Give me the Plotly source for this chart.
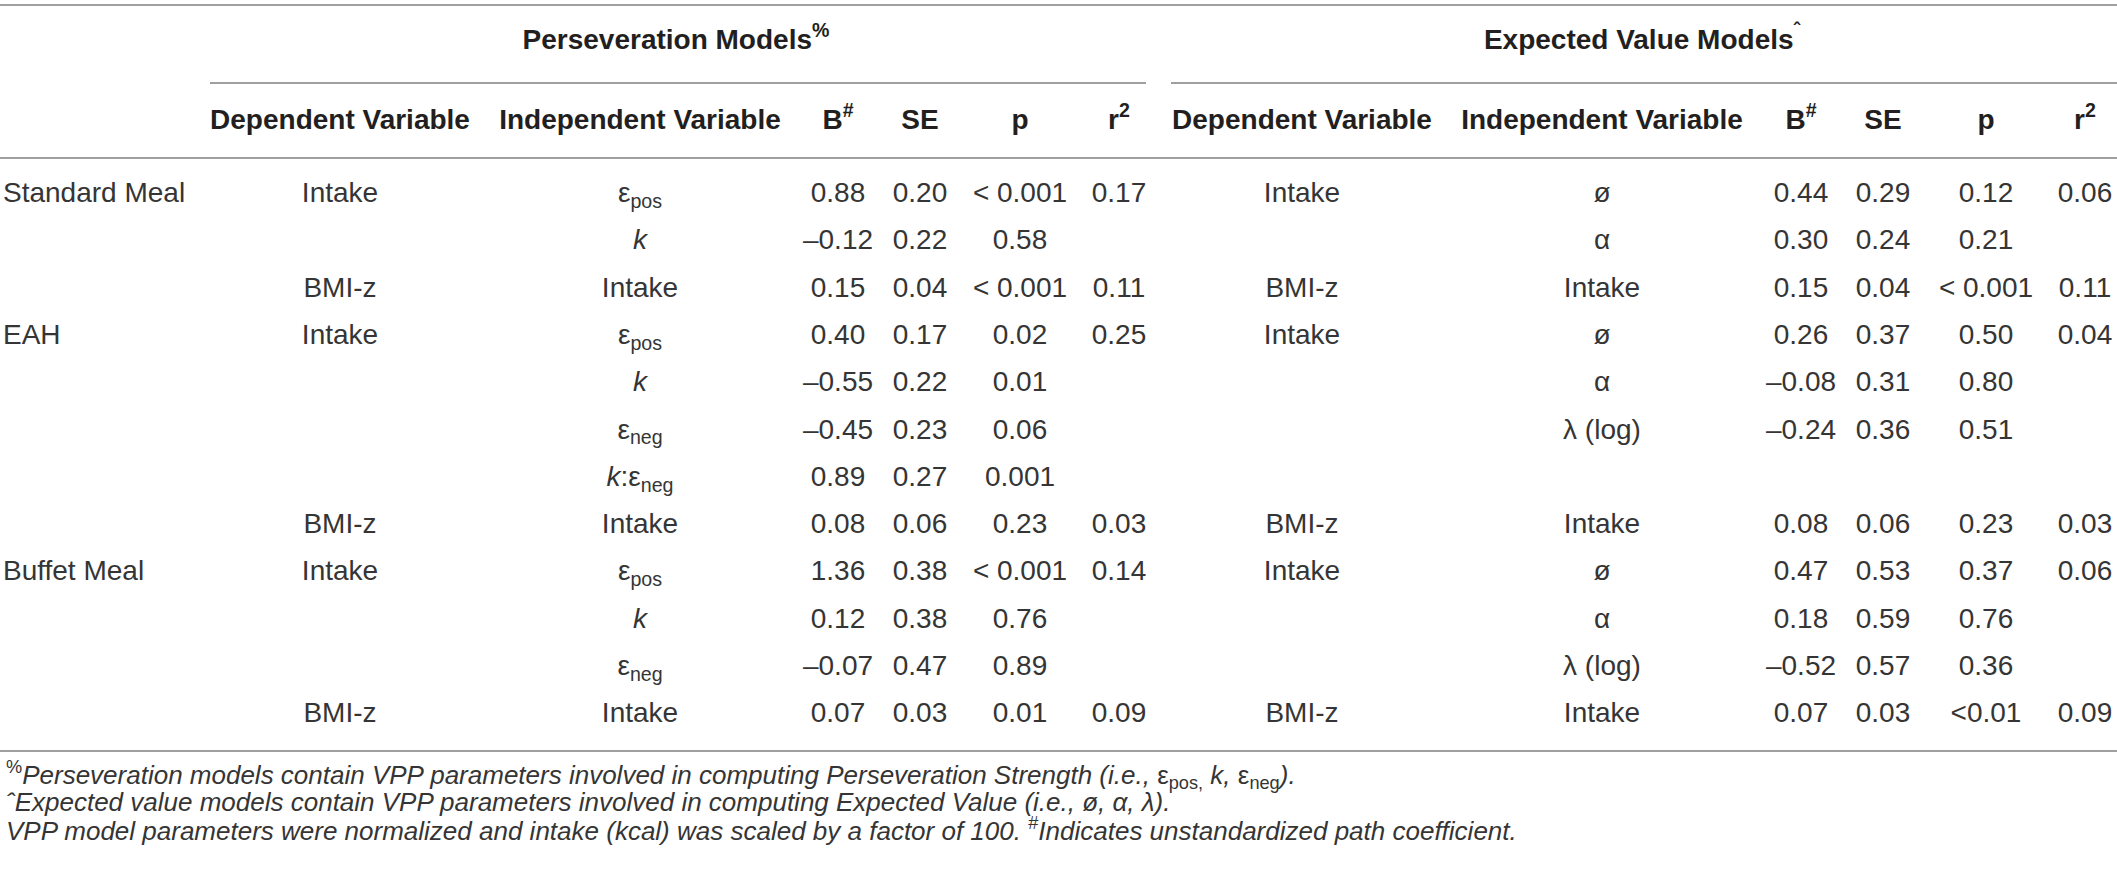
import plotly.graph_objects as go

# table content, one entry per body row
meal = ["Standard Meal", "", "", "EAH", "", "", "", "", "Buffet Meal", "", "", ""]

pers_dep = ["Intake", "", "BMI-z", "Intake", "", "", "", "BMI-z", "Intake", "", "", "BMI-z"]
pers_indep = ["ε<sub>pos</sub>", "<i>k</i>", "Intake", "ε<sub>pos</sub>", "<i>k</i>", "ε<sub>neg</sub>",
              "<i>k</i>:ε<sub>neg</sub>", "Intake", "ε<sub>pos</sub>", "<i>k</i>", "ε<sub>neg</sub>", "Intake"]
pers_b = ["0.88", "–0.12", "0.15", "0.40", "–0.55", "–0.45", "0.89", "0.08", "1.36", "0.12", "–0.07", "0.07"]
pers_se = ["0.20", "0.22", "0.04", "0.17", "0.22", "0.23", "0.27", "0.06", "0.38", "0.38", "0.47", "0.03"]
pers_p = ["< 0.001", "0.58", "< 0.001", "0.02", "0.01", "0.06", "0.001", "0.23", "< 0.001", "0.76", "0.89", "0.01"]
pers_r2 = ["0.17", "", "0.11", "0.25", "", "", "", "0.03", "0.14", "", "", "0.09"]

exp_dep = ["Intake", "", "BMI-z", "Intake", "", "", "", "BMI-z", "Intake", "", "", "BMI-z"]
exp_indep = ["ø", "α", "Intake", "ø", "α", "λ (log)", "", "Intake", "ø", "α", "λ (log)", "Intake"]
exp_b = ["0.44", "0.30", "0.15", "0.26", "–0.08", "–0.24", "", "0.08", "0.47", "0.18", "–0.52", "0.07"]
exp_se = ["0.29", "0.24", "0.04", "0.37", "0.31", "0.36", "", "0.06", "0.53", "0.59", "0.57", "0.03"]
exp_p = ["0.12", "0.21", "< 0.001", "0.50", "0.80", "0.51", "", "0.23", "0.37", "0.76", "0.36", "<0.01"]
exp_r2 = ["0.06", "", "0.11", "0.04", "", "", "", "0.03", "0.06", "", "", "0.09"]

group_headers = ["Perseveration Models<sup>%</sup>", "Expected Value Models<sup>ˆ</sup>"]
col_headers = ["Dependent Variable", "Independent Variable", "B<sup>#</sup>", "SE", "p", "r<sup>2</sup>"]

footnotes = [
    "<sup>%</sup><i>Perseveration models contain VPP parameters involved in computing Perseveration Strength "
    "(i.e., </i>ε<sub>pos,</sub> <i>k, </i>ε<sub>neg</sub><i>).</i>",
    "<i>ˆExpected value models contain VPP parameters involved in computing Expected Value (i.e., ø, α, λ).</i>",
    "<i>VPP model parameters were normalized and intake (kcal) was scaled by a factor of 100. "
    "</i><sup>#</sup><i>Indicates unstandardized path coefficient.</i>",
]

# layout (pixels)
W, H = 2117, 879
pers_x = [340, 640, 838, 920, 1020, 1119]
exp_x = [1302, 1602, 1801, 1883, 1986, 2085]
group_x = [676, 1642]
row0, row_h = 195, 47.3
header_y, group_y = 122, 42
foot_y = [775, 802, 829]

ink = "#231f20"
body_ink = "#353535"
rule = "#7f7f7f"
family = "Liberation Sans, Arial, Helvetica, sans-serif"

rows_y = [row0 + i * row_h for i in range(len(meal))]

fig = go.Figure()


def add_col(x, texts, pos="middle center"):
    keep = [i for i, t in enumerate(texts) if t]
    fig.add_trace(go.Scatter(
        x=[x] * len(keep), y=[rows_y[i] for i in keep], text=[texts[i] for i in keep],
        mode="text", textposition=pos,
        textfont=dict(family=family, size=28, color=body_ink),
        hoverinfo="skip", showlegend=False,
    ))


add_col(3, meal, "middle right")
for x, col in zip(pers_x, [pers_dep, pers_indep, pers_b, pers_se, pers_p, pers_r2]):
    add_col(x, col)
for x, col in zip(exp_x, [exp_dep, exp_indep, exp_b, exp_se, exp_p, exp_r2]):
    add_col(x, col)

# header rows
fig.add_trace(go.Scatter(
    x=pers_x + exp_x, y=[header_y] * 12, text=col_headers * 2, mode="text",
    textfont=dict(family=family, size=28, color=ink, weight="bold"),
    hoverinfo="skip", showlegend=False,
))
fig.add_trace(go.Scatter(
    x=group_x, y=[group_y] * 2, text=group_headers, mode="text",
    textfont=dict(family=family, size=28, color=ink, weight="bold"),
    hoverinfo="skip", showlegend=False,
))

# rules
for x0, x1, y in [(0, W, 5), (210, 1146, 83), (1171, W, 83), (0, W, 158), (0, W, 751)]:
    fig.add_shape(type="line", x0=x0, x1=x1, y0=y, y1=y, xref="x", yref="y",
                  line=dict(color=rule, width=1.5))

for txt, y in zip(footnotes, foot_y):
    fig.add_annotation(x=4, y=y, text=txt, xref="x", yref="y", xanchor="left", yanchor="middle",
                       showarrow=False, font=dict(family=family, size=26, color=body_ink))

fig.update_xaxes(range=[0, W], visible=False, fixedrange=True)
fig.update_yaxes(range=[H, 0], visible=False, fixedrange=True)
fig.update_layout(
    width=W, height=H,
    margin=dict(l=0, r=0, t=0, b=0),
    paper_bgcolor="white", plot_bgcolor="white",
)

fig.write_html("out.html", config={"displayModeBar": False},
               post_script="document.body.style.margin='0';document.body.style.overflow='hidden';")
